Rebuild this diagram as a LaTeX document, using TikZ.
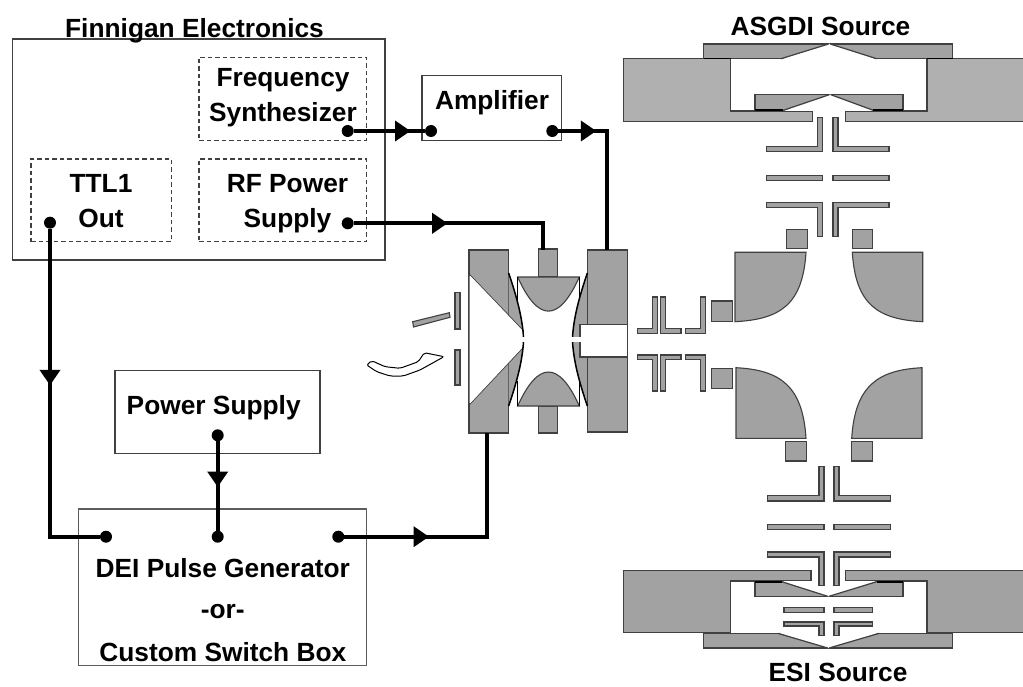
\documentclass[tikz,border=0pt]{standalone}
\usepackage{fontspec}
\setmainfont{Liberation Sans}
\usetikzlibrary{arrows.meta,decorations.markings}
\definecolor{partgrey}{HTML}{A2A2A2}
\definecolor{lightgrey}{HTML}{B0B0B0}
\definecolor{edgegrey}{HTML}{404040}
\tikzset{
  x=1pt,y=-1pt,
  box/.style={draw=edgegrey,line width=1.5pt,fill=none,inner sep=0pt,outer sep=0pt},
  thinbox/.style={box,draw=edgegrey!85,line width=1.2pt},
  dashbox/.style={box,line width=1.4pt,dash pattern=on 4.5pt off 3pt},
  label/.style={font=\fontsize{26.3}{34}\selectfont\bfseries,inner sep=0pt,outer sep=0pt,anchor=base,align=center},
  dot/.style={circle,fill=black,inner sep=0pt,minimum size=12pt,outer sep=0pt},
  wire/.style={line width=4pt,black,line join=miter},
  midarrow/.style={postaction={decorate},decoration={markings,mark=at position #1 with {\arrow{Triangle[length=15.5pt,width=20pt]}}}},
  part/.style={fill=partgrey,draw=edgegrey,line width=1.1pt,line join=miter},
  lightpart/.style={part,fill=lightgrey},
  blockpart/.style={part,inner sep=0pt,outer sep=0pt},
  gapfill/.style={fill=white,draw=edgegrey,line width=1.1pt},
  rim/.style={draw=black,line width=1.5pt},
  coneedge/.style={draw=edgegrey,line width=1.2pt},
}
\begin{document}
\begin{tikzpicture}
\useasboundingbox (0,0) rectangle (1023,687);
\fill[white] (0,0) rectangle (1023,687);

% ---------- electronics boxes
\node[box,minimum width=372.3pt,minimum height=221pt] (finnigan) at (198.85,149.5) {};
\node[dashbox,minimum width=167.7pt,minimum height=83pt] (freqbox) at (282.85,98.8) {};
\node[dashbox,minimum width=167.7pt,minimum height=82.7pt] (rfbox) at (282.85,200.35) {};
\node[dashbox,minimum width=140.3pt,minimum height=82.7pt] (ttlbox) at (101.15,200.35) {};
\node[box,minimum width=139.7pt,minimum height=65pt] (ampbox) at (491.85,107.8) {};
\node[box,minimum width=205pt,minimum height=83pt] (psbox) at (217.5,412.2) {};
\node[thinbox,minimum width=288pt,minimum height=156.7pt] (deibox) at (222.3,587.35) {};

% ---------- ion source optics (left of trap)
\draw[part] (455,292.7) rectangle (460,329);
\draw[part] (455,350) rectangle (460,385);
\draw[part] (412.7,321.7) -- (449.3,312.7) -- (450,317.3) -- (413.5,327) -- cycle;
\draw[fill=white,draw=black,line width=1pt,rounded corners=2pt]
  (444,356.7) -- (424.3,352.7) -- (418.3,361.7) -- (400,368.3) -- (385,366.7) -- (371.7,360.7)
  -- (366.7,365) -- (376.7,371.7) -- (390,376) -- (403.3,376) -- (420,370) -- cycle;

% ---------- ion trap
\node[blockpart,minimum width=19pt,minimum height=28pt,draw] (stemtop) at (548.2,263) {};
\draw[part] (538.7,406) rectangle (557.7,433);
\node[blockpart,draw,minimum width=39.7pt,minimum height=183pt] (leftblock) at (488.85,341.5) {};
\node[blockpart,draw,minimum width=40pt,minimum height=182pt] (rightblock) at (607.3,341) {};
% end cap lenses
\fill[partgrey] (508.7,274) .. controls (516,295) and (522,315) .. (523.5,337) -- (523.5,331) -- (508.7,316) -- cycle;
\fill[partgrey] (508.7,405) .. controls (516,384) and (522,364) .. (523.5,342) -- (523.5,347) -- (508.7,362) -- cycle;
\draw[fill=white,draw=edgegrey,line width=1.1pt] (523.5,331) -- (469,274) -- (469,405) -- (523.5,347);
\fill[white] (470,275.5) -- (523.5,331.5) -- (523.5,346.5) -- (470,403.5) -- cycle;
\draw[rim] (508.7,273) .. controls (516,295) and (522,315) .. (523.5,337);
\draw[rim] (508.7,406) .. controls (516,384) and (522,364) .. (523.5,342);
\fill[partgrey] (587.3,274) .. controls (580,295) and (574,315) .. (572.5,337) -- (580,337) -- (580,324.3) -- (587.3,324.3) -- cycle;
\fill[partgrey] (587.3,405) .. controls (580,384) and (574,364) .. (572.5,342) -- (580,342) -- (580,357) -- (587.3,357) -- cycle;
\draw[gapfill] (627.3,324.3) -- (580,324.3) -- (580,357) -- (627.3,357);
\fill[white] (581,325) rectangle (626.7,356.3);
\draw[part,fill=none] (587.3,270) -- (587.3,324.3);
\draw[part,fill=none] (587.3,357) -- (587.3,410);
\fill[white] (572,337.4) rectangle (581,341.6);
\draw[rim] (587.3,273) .. controls (580,295) and (574,315) .. (572.5,337);
\draw[rim] (587.3,406) .. controls (580,384) and (574,364) .. (572.5,342);
% ring electrode
\draw[part] (517.7,277) -- (579.3,277) .. controls (559,322.5) and (538,322.5) .. (517.7,277) -- cycle;
\draw[part] (517.7,406) -- (579.3,406) .. controls (559,360.7) and (538,360.7) .. (517.7,406) -- cycle;
\draw[rim,line width=1.2pt] (517.7,277) -- (517.7,301);
\draw[rim,line width=1.2pt] (517.7,406) -- (517.7,381);
\draw[rim,line width=1.2pt] (579.3,277) -- (579.3,299);
\draw[rim,line width=1.2pt] (579.3,406) -- (579.3,381);

% ---------- transfer lenses between trap and quadrupole
\draw[part] (652.7,297) -- (657.7,297) -- (657.7,333.3) -- (637.3,333.3) -- (637.3,328.7) -- (652.7,328.7) -- cycle;
\draw[part] (660.7,297) -- (665.7,297) -- (665.7,328.7) -- (681,328.7) -- (681,333.3) -- (660.7,333.3) -- cycle;
\draw[part] (700.7,297) -- (705.3,297) -- (705.3,333.3) -- (685.3,333.3) -- (685.3,328.7) -- (700.7,328.7) -- cycle;
\draw[part] (652.7,391) -- (657.7,391) -- (657.7,355) -- (637.3,355) -- (637.3,359.7) -- (652.7,359.7) -- cycle;
\draw[part] (660.7,391) -- (665.7,391) -- (665.7,359.7) -- (681,359.7) -- (681,355) -- (660.7,355) -- cycle;
\draw[part] (700.7,391) -- (705.3,391) -- (705.3,355) -- (685.3,355) -- (685.3,359.7) -- (700.7,359.7) -- cycle;
\draw[part] (711.7,301) rectangle (732.3,321.7);
\draw[part] (711.7,368.7) rectangle (732.3,388.7);

% ---------- quadrupole deflector
\draw[part] (735,252.3) -- (806,252.3) .. controls (802.7,305) and (780,319.3) .. (735,321.7) -- cycle;
\draw[part] (922.7,252.3) -- (852.3,252.3) .. controls (855.6,305) and (878,319.3) .. (922.7,321.7) -- cycle;
\draw[part] (736,438.3) -- (806,438.3) .. controls (802.7,385.6) and (780,370) .. (736,367.7) -- cycle;
\draw[part] (922,438.3) -- (851.7,438.3) .. controls (855,385.6) and (878,370) .. (922,367.7) -- cycle;
\draw[part] (786.3,229.3) rectangle (807.7,248.3);
\draw[part] (852.7,229.3) rectangle (872.7,248.3);
\draw[part] (785.3,441.5) rectangle (806.7,461);
\draw[part] (851.3,441.5) rectangle (872.7,461);

% ---------- ASGDI source
\draw[lightpart] (623.3,58.7) -- (730.7,58.7) -- (730.7,111) -- (812.3,111) -- (812.3,121.7) -- (623.3,121.7) -- cycle;
\draw[lightpart] (1024,58.7) -- (927,58.7) -- (927,111) -- (845.3,111) -- (845.3,121.7) -- (1024,121.7);
\draw[part] (703.7,44) rectangle (952.7,58.7);
\fill[white] (781,59.4) -- (828.6,44) -- (830.2,44) -- (876.7,59.4) -- cycle;
\draw[coneedge] (781,58.7) -- (828.6,44);
\draw[coneedge] (830.2,44) -- (876.7,58.7);
\draw[black,line width=1.6pt] (703.7,58.7) -- (730.7,58.7) (927,58.7) -- (952.7,58.7);
\draw[part] (755,94.7) rectangle (903,110.3);
\fill[white] (783.3,111) -- (829.4,94.7) -- (830.8,94.7) -- (873.3,111) -- cycle;
\draw[coneedge] (783.3,110.3) -- (829.4,94.7);
\draw[coneedge] (830.8,94.7) -- (873.3,110.3);
\draw[black,line width=1.6pt] (755,110.3) -- (783.3,110.3) (873.3,110.3) -- (903,110.3);
\draw[part] (817.7,117.3) -- (822.7,117.3) -- (822.7,151.7) -- (766.3,151.7) -- (766.3,146.7) -- (817.7,146.7) -- cycle;
\draw[part] (838,117.3) -- (833,117.3) -- (833,151.7) -- (889,151.7) -- (889,146.7) -- (838,146.7) -- cycle;
\draw[part] (766.3,175.3) rectangle (822.7,180.3);
\draw[part] (833,175.3) rectangle (889,180.3);
\draw[part] (766.3,202.7) -- (822.7,202.7) -- (822.7,236.7) -- (817.7,236.7) -- (817.7,207.7) -- (766.3,207.7) -- cycle;
\draw[part] (889,202.7) -- (833,202.7) -- (833,236.7) -- (838,236.7) -- (838,207.7) -- (889,207.7) -- cycle;

% ---------- ESI source
\draw[part] (623.3,570.3) -- (811,570.3) -- (811,581) -- (730.7,581) -- (730.7,632.7) -- (623.3,632.7) -- cycle;
\draw[part] (1024,570.3) -- (845.7,570.3) -- (845.7,581) -- (927,581) -- (927,632.7) -- (1024,632.7);
\draw[part] (755,581.7) rectangle (903,596.3);
\fill[white] (781.7,581) -- (827.7,596.3) -- (829,596.3) -- (876.7,581) -- cycle;
\draw[coneedge] (781.7,581.7) -- (827.7,596.3);
\draw[coneedge] (829,596.3) -- (876.7,581.7);
\draw[black,line width=1.6pt] (755,581.7) -- (781.7,581.7) (876.7,581.7) -- (903,581.7);
\draw[part] (703.7,633.3) rectangle (952.7,648);
\fill[white] (777.7,632.6) -- (827.7,648) -- (829,648) -- (879.3,632.6) -- cycle;
\draw[coneedge] (777.7,633.3) -- (827.7,648);
\draw[coneedge] (829,648) -- (879.3,633.3);
\draw[part] (819,466.7) -- (824,466.7) -- (824,501) -- (767.7,501) -- (767.7,495.7) -- (819,495.7) -- cycle;
\draw[part] (839,466.7) -- (834,466.7) -- (834,501) -- (890.3,501) -- (890.3,495.7) -- (839,495.7) -- cycle;
\draw[part] (767.7,524.3) rectangle (824,529.7);
\draw[part] (834,524.3) rectangle (890.3,529.7);
\draw[part] (767.7,552) -- (824,552) -- (824,585.7) -- (819,585.7) -- (819,557) -- (767.7,557) -- cycle;
\draw[part] (890.3,552) -- (834,552) -- (834,585.7) -- (839,585.7) -- (839,557) -- (890.3,557) -- cycle;
\draw[part] (784,607.3) rectangle (824,612.3);
\draw[part] (834,607.3) rectangle (872.7,612.3);
\draw[part] (784,622) -- (824,622) -- (824,635.7) -- (819,635.7) -- (819,626) -- (784,626) -- cycle;
\draw[part] (872.7,622) -- (834,622) -- (834,635.7) -- (839,635.7) -- (839,626) -- (872.7,626) -- cycle;

% ---------- labels
\node[label] (tFinn) at (194.5,37.7) {Finnigan Electronics};
\node[label] (tFreq) at (283,121.7) {Frequency\\[0.7pt]Synthesizer};
\node[label] (tRF) at (287.5,228) {RF Power\\[1.3pt]Supply};
\node[label] (tTTL) at (101,228) {TTL1\\[1.3pt]Out};
\node[label] (tAmp) at (492,110) {Amplifier};
\node[label] (tPS) at (213.7,414) {Power Supply};
\node[label] (tDEI) at (222.8,661) {DEI Pulse Generator\\[7.5pt]-or-\\[8.5pt]Custom Switch Box};
\node[label] (tASGDI) at (820.5,35.7) {ASGDI Source};
\node[label] (tESI) at (838,681.7) {ESI Source};

% ---------- connectors
\node[dot] (freqout) at (347.7,131) {};
\node[dot] (ampin) at (431,131) {};
\node[dot] (ampout) at (552.3,131) {};
\node[dot] (rfout) at (347.7,223.3) {};
\node[dot] (ttlout) at (50,222.7) {};
\node[dot] (deiin) at (106,536.7) {};
\node[dot] (psout) at (217.7,435.3) {};
\node[dot] (deips) at (217.7,536.7) {};
\node[dot] (deiout) at (338.3,536.7) {};
\coordinate (ringin) at (542.7,250);
\coordinate (capin) at (487.3,433);

\draw[wire,midarrow=56.8pt] (freqout) -- (ampin);
\draw[wire,midarrow=38pt] (ampout) -| (rightblock.north);
\draw[wire,midarrow=93.9pt] (rfout) -| (ringin);
\draw[wire,midarrow=156.6pt] (ttlout) |- (deiin);
\draw[wire,midarrow=45.7pt] (psout) -- (deips);
\draw[wire,midarrow=84.7pt] (deiout) -| (capin);
\end{tikzpicture}
\end{document}
